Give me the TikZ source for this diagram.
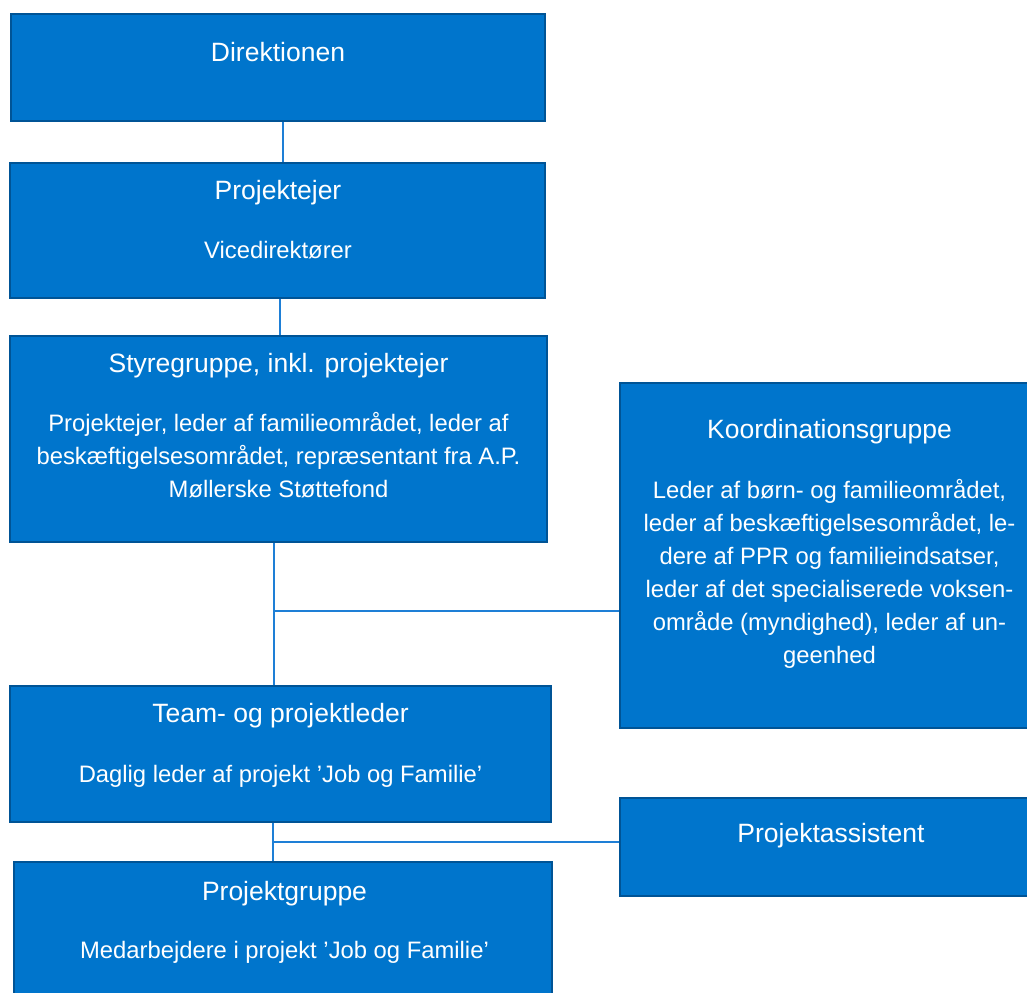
\documentclass[tikz,border=0pt]{standalone}
\usepackage{fontspec}
\setmainfont{Liberation Sans}
\usepackage{xcolor}
\usepackage{tikz}
\usetikzlibrary{calc}

\definecolor{boxblue}{RGB}{0,117,204}
\definecolor{edgeblue}{RGB}{0,84,150}
\definecolor{linkblue}{RGB}{30,127,214}

\begin{document}
\begin{tikzpicture}[
    x=0.5pt, y=-0.5pt,
    box/.style={rectangle, draw=edgeblue, fill=boxblue, line width=1.25pt, inner sep=0pt},
    titletext/.style={text=white, inner sep=0pt, anchor=base, font=\fontsize{13.25}{16}\selectfont},
    bodytext/.style={text=white, inner sep=0pt, align=center, font=\fontsize{11.9}{16.5}\selectfont},
    link/.style={draw=linkblue, line width=1pt},
]
\useasboundingbox[fill=white] (0,0) rectangle (1027,992);

% Left column of boxes
\node[box, minimum width=267pt, minimum height=53.5pt] (dir) at (278,67.5) {};
\node[box, minimum width=267.5pt, minimum height=67.5pt] (pejer) at (277.5,230.5) {};
\node[box, minimum width=268.5pt, minimum height=103pt] (styr) at (278.5,439) {};
\node[box, minimum width=270.5pt, minimum height=68pt] (team) at (280.5,754) {};
\node[box, minimum width=269pt, minimum height=68pt] (pgrp) at (283,930) {};

% Right column of boxes (cut by the right margin)
\node[box, minimum width=220pt, minimum height=172.5pt] (koord) at (840,555.5) {};
\node[box, minimum width=220pt, minimum height=49pt] (assist) at (840,847) {};

% Texts
\node[titletext] (dirT) at (278,61) {Direktionen};

\node[titletext] (pejerT) at (278,199) {Projektejer};
\node[titletext, font=\fontsize{11.9}{16.5}\selectfont] (pejerB) at (278,258) {Vicedirektører};

\node[titletext] (styrT) at (278.5,372) {Styregruppe, inkl. projektejer};
\node[bodytext] (styrB) at (278.5,458) {\strut Projektejer, leder af familieområdet, leder af\\
  beskæftigelsesområdet, repræsentant fra A.P.\\
  Møllerske Støttefond\strut};

\node[titletext] (koordT) at (829.5,438) {Koordinationsgruppe};
\node[bodytext] (koordB) at (829.5,574) {\strut Leder af børn- og familieområdet,\\
  leder af beskæftigelsesområdet, le-\\
  dere af PPR og familieindsatser,\\
  leder af det specialiserede voksen-\\
  område (myndighed), leder af un-\\
  geenhed\strut};

\node[titletext] (teamT) at (280.5,722) {Team- og projektleder};
\node[titletext, font=\fontsize{11.9}{16.5}\selectfont] (teamB) at (280.5,782) {Daglig leder af projekt ’Job og Familie’};

\node[titletext] (assistT) at (831,842) {Projektassistent};

\node[titletext] (pgrpT) at (284.5,900) {Projektgruppe};
\node[titletext, font=\fontsize{11.9}{16.5}\selectfont] (pgrpB) at (284.5,958) {Medarbejdere i projekt ’Job og Familie’};

% Vertical connectors
\draw[link] ([xshift=2.5pt]dir.south) -- ([xshift=2.5pt]dir.south |- pejer.north);
\draw[link] ([xshift=1.25pt]pejer.south) -- ([xshift=1.25pt]pejer.south |- styr.north);
\draw[link] ([xshift=-2.25pt]styr.south) -- ([xshift=-2.25pt]styr.south |- team.north);
\draw[link] ([xshift=-3.75pt]team.south) -- ([xshift=-3.75pt]team.south |- pgrp.north);

% Side branches
\coordinate (j1) at (274,611);
\coordinate (j2) at (273,842);
\draw[link] (j1) -- (j1 -| koord.west);
\draw[link] (j2) -- (j2 -| assist.west);

\end{tikzpicture}
\end{document}
